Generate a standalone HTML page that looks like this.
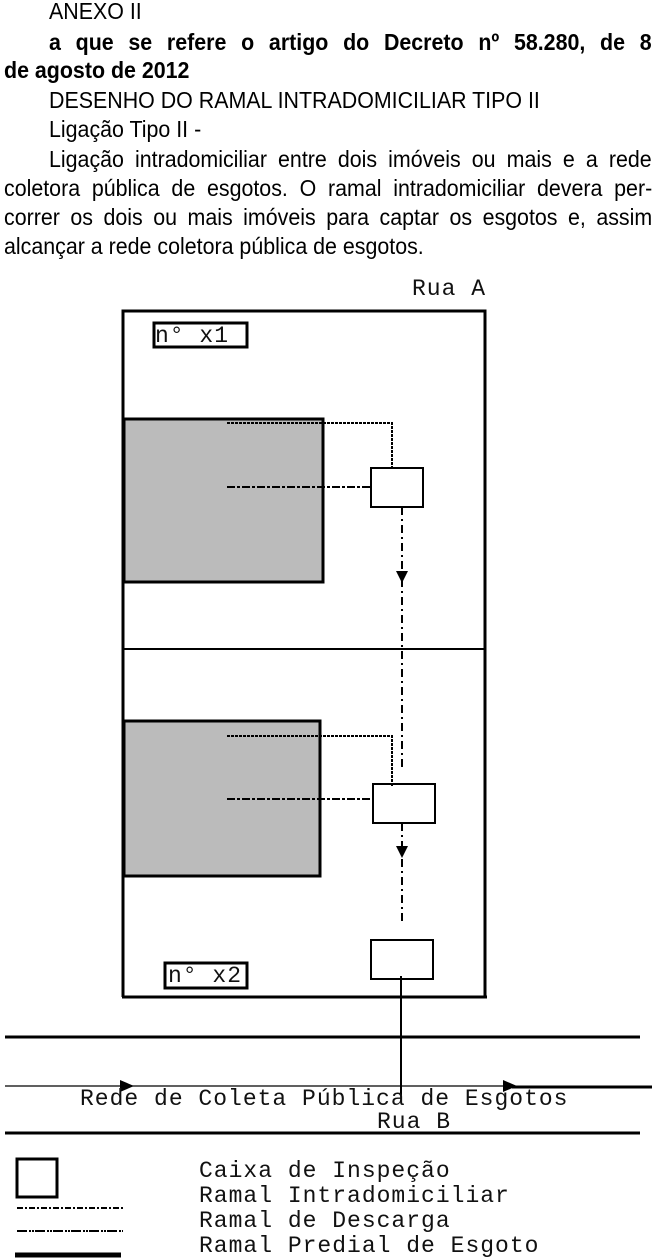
<!DOCTYPE html>
<html><head><meta charset="utf-8">
<style>
html,body{margin:0;padding:0;background:#fff;}
body{width:654px;height:1260px;position:relative;overflow:hidden;font-family:"Liberation Sans",sans-serif;}
.l{position:absolute;height:29px;line-height:29px;font-size:23px;white-space:nowrap;color:#000;}
.l span{display:inline-block;transform-origin:0 50%;transform:scaleX(0.93);}
.j span{text-align:justify;text-align-last:justify;white-space:normal;}
.b{font-weight:bold;}
.m{position:absolute;font-family:"Liberation Mono",monospace;font-size:23px;letter-spacing:1px;line-height:22px;white-space:nowrap;color:#111;}
</style></head><body>
<div class="l" style="left:49px;top:-3px"><span>ANEXO II</span></div>
<div class="l b j" style="left:49px;top:28px"><span style="width:648px">a que se refere o artigo do Decreto nº 58.280, de 8</span></div>
<div class="l b" style="left:4px;top:56px"><span>de agosto de 2012</span></div>
<div class="l" style="left:49px;top:86px"><span>DESENHO DO RAMAL INTRADOMICILIAR TIPO II</span></div>
<div class="l" style="left:49px;top:115px"><span>Ligação Tipo II -</span></div>
<div class="l j" style="left:49px;top:145px"><span style="width:648px">Ligação intradomiciliar entre dois imóveis ou mais e a rede</span></div>
<div class="l j" style="left:4px;top:174px"><span style="width:697px">coletora pública de esgotos. O ramal intradomiciliar devera per-</span></div>
<div class="l j" style="left:4px;top:203px"><span style="width:697px">correr os dois ou mais imóveis para captar os esgotos e, assim</span></div>
<div class="l" style="left:4px;top:232px"><span>alcançar a rede coletora pública de esgotos.</span></div>

<svg width="654" height="1260" style="position:absolute;left:0;top:0" xmlns="http://www.w3.org/2000/svg">
<g stroke="#000" fill="none">
<polyline points="123,997 123,311 485,311 485,997" stroke-width="3"/>
<line x1="122" y1="997" x2="487" y2="997" stroke-width="3"/>
<line x1="123" y1="649" x2="485" y2="649" stroke-width="2"/>
<rect x="154" y="323" width="93" height="24" stroke-width="3"/>
<rect x="165" y="963" width="82" height="25" stroke-width="3"/>
<rect x="124" y="419" width="199" height="163" fill="#bbb" stroke-width="3"/>
<rect x="124" y="721" width="196" height="155" fill="#bbb" stroke-width="3"/>
<rect x="371" y="468" width="52" height="39" stroke-width="2"/>
<rect x="373" y="784" width="62" height="39" stroke-width="2"/>
<rect x="371" y="940" width="62" height="39" stroke-width="2"/>
<polyline points="227,423 392,423 392,468" stroke-width="2" stroke-dasharray="3,1"/>
<polyline points="227,736 392,736 392,786" stroke-width="2" stroke-dasharray="3,1"/>
<line x1="227" y1="487" x2="371" y2="487" stroke-width="2" stroke-dasharray="8,2,3,2"/>
<line x1="227" y1="799" x2="373" y2="799" stroke-width="2" stroke-dasharray="8,2,3,2"/>
<line x1="402" y1="507" x2="402" y2="770" stroke-width="2" stroke-dasharray="8,4,2,4"/>
<line x1="402" y1="823" x2="402" y2="922" stroke-width="2" stroke-dasharray="8,4,2,4"/>
<line x1="401" y1="976" x2="401" y2="1095" stroke-width="2"/>
<line x1="5" y1="1037" x2="640" y2="1037" stroke-width="3"/>
<line x1="5" y1="1133" x2="640" y2="1133" stroke-width="3"/>
<line x1="5" y1="1086" x2="512" y2="1086" stroke-width="1.3"/>
<line x1="512" y1="1087" x2="652" y2="1087" stroke-width="3"/>
<rect x="17" y="1159" width="40" height="38" stroke-width="3"/>
<line x1="17" y1="1208" x2="123" y2="1208" stroke-width="2" stroke-dasharray="6,2,2,2"/>
<line x1="17" y1="1231" x2="123" y2="1231" stroke-width="2" stroke-dasharray="10,2,2,1,2,1"/>
<line x1="15" y1="1255" x2="121" y2="1255" stroke-width="5"/>
</g>
<g fill="#000">
<polygon points="396,571 408,571 402,583"/>
<polygon points="396,846 408,846 402,858"/>
<polygon points="120,1080 134,1086 120,1092"/>
<polygon points="503,1080 517,1086 503,1092"/>
</g>
</svg>

<div class="m" style="left:412px;top:278px">Rua A</div>
<div class="m" style="left:155px;top:325px">n° x1</div>
<div class="m" style="left:168px;top:965px">n° x2</div>
<div class="m" style="left:80px;top:1088px">Rede de Coleta Pública de Esgotos</div>
<div class="m" style="left:377px;top:1111px">Rua B</div>
<div class="m" style="left:199px;top:1160px">Caixa de Inspeção</div>
<div class="m" style="left:199px;top:1185px">Ramal Intradomiciliar</div>
<div class="m" style="left:199px;top:1210px">Ramal de Descarga</div>
<div class="m" style="left:199px;top:1235px">Ramal Predial de Esgoto</div>
</body></html>
